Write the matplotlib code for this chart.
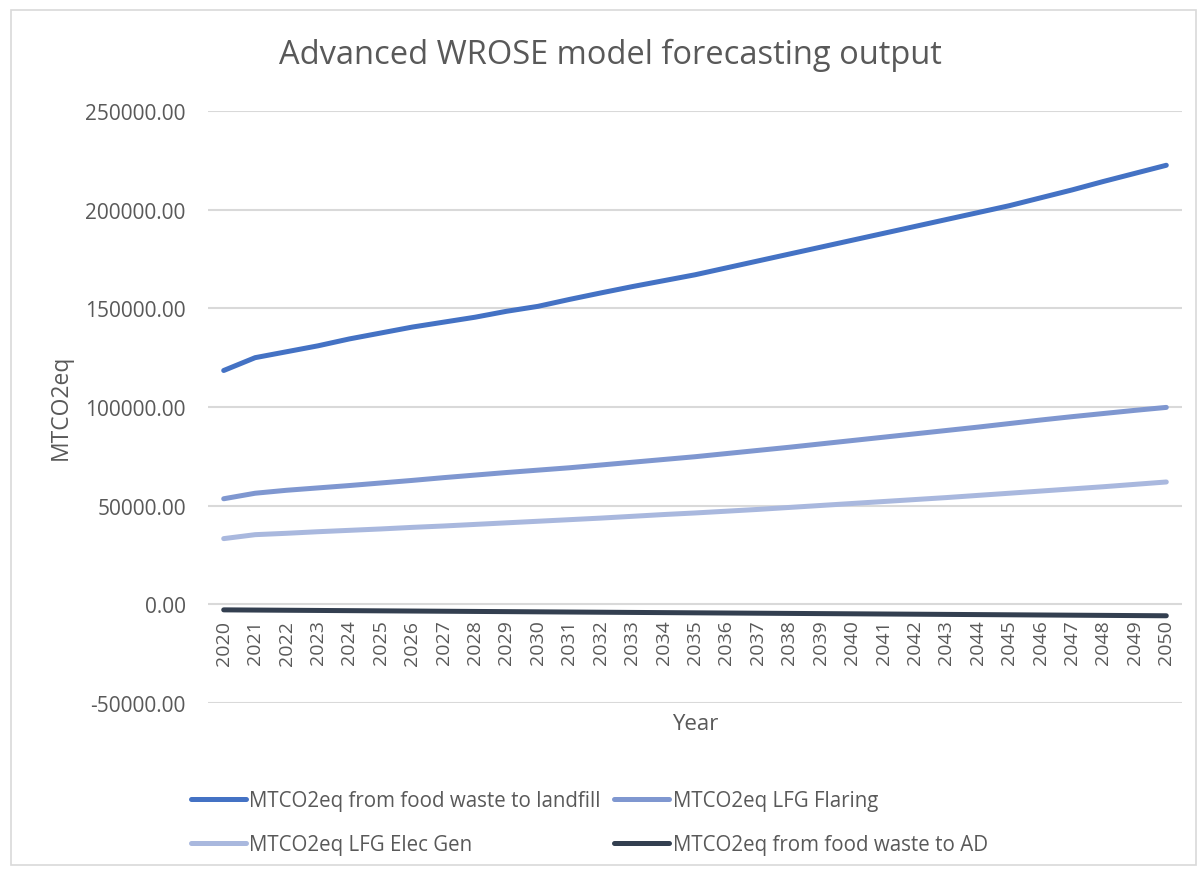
import matplotlib
matplotlib.use("Agg")
import matplotlib.pyplot as plt
from matplotlib.patches import Rectangle
import numpy as np

years = [str(y) for y in range(2020, 2051)]

landfill = [118500, 125000, 128000, 131000, 134500, 137500, 140500, 143000,
            145500, 148500, 151000, 154500, 157800, 161000, 164000, 167000,
            170500, 174000, 177500, 181000, 184500, 188000, 191500, 195000,
            198500, 202000, 206000, 210000, 214300, 218400, 222500]
flaring = [53500, 56300, 57800, 59000, 60200, 61500, 62800, 64200,
           65500, 66800, 68000, 69200, 70600, 72000, 73400, 74800,
           76400, 78000, 79600, 81300, 83000, 84700, 86400, 88100,
           89800, 91600, 93400, 95100, 96700, 98300, 99800]
elec_gen = [33300, 35300, 36000, 36800, 37500, 38200, 39000, 39700,
            40500, 41300, 42100, 42900, 43700, 44600, 45500, 46300,
            47200, 48100, 49100, 50100, 51100, 52100, 53100, 54100,
            55200, 56300, 57400, 58500, 59600, 60800, 62000]
food_to_ad = [-2800, -2900, -3000, -3100, -3200, -3300, -3400, -3500,
              -3600, -3700, -3800, -3900, -4000, -4100, -4200, -4300,
              -4400, -4500, -4600, -4700, -4800, -4900, -5000, -5100,
              -5200, -5300, -5400, -5500, -5600, -5700, -5800]

series = [
    ("MTCO2eq from food waste to landfill", landfill, "#4472C4"),
    ("MTCO2eq LFG Flaring", flaring, "#7F97D0"),
    ("MTCO2eq LFG Elec Gen", elec_gen, "#A9B8DE"),
    ("MTCO2eq from food waste to AD", food_to_ad, "#333F50"),
]

plt.rcParams["font.family"] = ["Open Sans", "DejaVu Sans"]
text_color = "#595959"

fig = plt.figure(figsize=(11.98, 8.7), dpi=100)
ax = fig.add_axes([208 / 1198, 1 - 704 / 870, (1182 - 208) / 1198, (704 - 112) / 870])

x = np.arange(len(years))
handles = []
for name, vals, color in series:
    h, = ax.plot(x, vals, color=color, lw=3.6, solid_capstyle="round", label=name)
    handles.append(h)

ax.set_xlim(-0.5, len(years) - 0.5)
ax.set_ylim(-50000, 250000)
ax.set_yticks(np.arange(-50000, 250001, 50000))
ax.yaxis.set_major_formatter(matplotlib.ticker.FuncFormatter(lambda v, p: f"{v:.2f}"))
ax.set_xticks(x)
ax.set_xticklabels(years)
ax.tick_params(axis="both", length=0, colors=text_color)
ax.tick_params(axis="y", pad=16, labelsize=15)
ax.tick_params(axis="x", pad=11, labelsize=14, labelrotation=90)

for s in ax.spines.values():
    s.set_visible(False)
ax.spines["bottom"].set_position(("data", 0))
ax.grid(axis="y", color="#D9D9D9", lw=1.5)
ax.set_axisbelow(True)

fig.text(695 / 1198, 1 - 725 / 870, "Year", ha="center", va="center",
         fontsize=16, color=text_color)
fig.text(61 / 1198, 1 - 407 / 870, "MTCO2eq", ha="center", va="center",
         rotation=90, fontsize=16.5, color=text_color)
fig.text(610 / 1198, 1 - 55 / 870, "Advanced WROSE model forecasting output",
         ha="center", va="center", fontsize=23.5, color=text_color)

# legend is filled row by row in the reference
order = [0, 2, 1, 3]
fig.legend(handles=[handles[i] for i in order], loc="upper left",
           bbox_to_anchor=(172 / 1198, 1 - 773 / 870),
           ncol=2, frameon=False, fontsize=14.8,
           labelcolor=text_color, handlelength=2.7, handletextpad=0.15,
           columnspacing=0.65, labelspacing=1.1)

fig.add_artist(Rectangle((11 / 1198, 1 - 866 / 870), 1185 / 1198, 855 / 870,
                         transform=fig.transFigure, fill=False,
                         edgecolor="#D9D9D9", lw=1.2))

fig.savefig("out.png", dpi=100)
